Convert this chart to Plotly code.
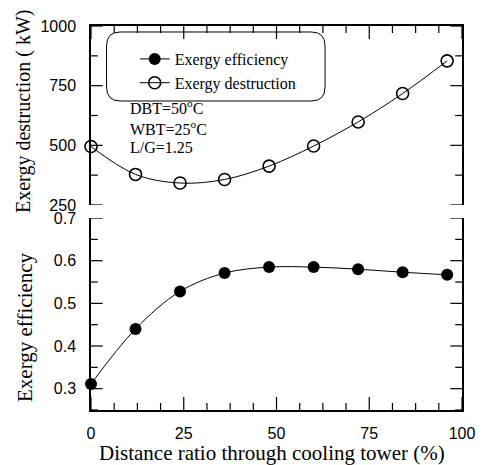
import plotly.graph_objects as go

# ---- data ----
distance = [0, 12, 24, 36, 48, 60, 72, 84, 96]
destruction = [495, 378, 342, 357, 413, 497, 598, 717, 854]
efficiency = [0.311, 0.440, 0.528, 0.571, 0.585, 0.585, 0.580, 0.573, 0.567]
x_ticks = [0, 25, 50, 75, 100]
x_minor = [6.25, 12.5, 18.75, 31.25, 37.5, 43.75, 56.25, 62.5, 68.75, 81.25, 87.5, 93.75]
eff_ticks = [0.3, 0.4, 0.5, 0.6, 0.7]
eff_minor = [0.25, 0.35, 0.45, 0.55, 0.65]
des_ticks = [250, 500, 750, 1000]
des_minor = [375, 625, 875]
notes = ["DBT=50<sup>o</sup>C", "WBT=25<sup>o</sup>C", "L/G=1.25"]

W, H = 487, 465
L, R, T, B = 91, 14, 26, 55
PW, PH = W - L - R, H - T - B


def px(xp):
    return (xp - L) / PW


def py(yp):
    return (H - B - yp) / PH


serif = "Liberation Serif"
sans = "Liberation Sans"
XR = [0, 100]
YR_EFF = [0.25, 0.7001]
YR_DES = [249.9, 1000.1]
BOT_TOP, TOP_BOT = 218, 205
H_BOT = (H - B) - BOT_TOP
H_TOP = TOP_BOT - T

fig = go.Figure()
fig.add_trace(go.Scatter(
    x=distance, y=efficiency, name="Exergy efficiency",
    mode="lines+markers", line=dict(color="black", width=1, shape="spline"),
    marker=dict(symbol="circle", size=12, color="black"), cliponaxis=False,
    xaxis="x", yaxis="y"))
fig.add_trace(go.Scatter(
    x=distance, y=destruction, name="Exergy destruction",
    mode="lines+markers", line=dict(color="black", width=1, shape="spline"),
    marker=dict(symbol="circle-open", size=12, color="black", line=dict(width=1.6)),
    cliponaxis=False, xaxis="x2", yaxis="y2"))

tickfont = dict(family=sans, size=16, color="black")
base = dict(showline=True, linecolor="black", linewidth=1.5, showgrid=False,
            zeroline=False, ticks="")

fig.update_layout(
    width=W, height=H, margin=dict(l=L, r=R, t=T, b=B),
    paper_bgcolor="white", plot_bgcolor="white",
    xaxis=dict(domain=[0, 1], anchor="y", range=XR, tickmode="array", tickvals=x_ticks,
               tickfont=tickfont, ticklabelstandoff=8, mirror=False, **base),
    xaxis2=dict(domain=[0, 1], anchor="y2", range=XR, side="top", showticklabels=False,
                mirror=False, **base),
    yaxis=dict(domain=[0, py(BOT_TOP)], anchor="x", range=YR_EFF, tickmode="array",
               tickvals=eff_ticks, tickformat=".1f", tickfont=tickfont,
               ticklabelstandoff=10, mirror=True, **base),
    yaxis2=dict(domain=[py(TOP_BOT), 1], anchor="x2", range=YR_DES, tickmode="array",
                tickvals=des_ticks, tickfont=tickfont, ticklabelstandoff=10, mirror=True, **base),
    showlegend=True,
    legend=dict(x=px(136), y=py(42), xanchor="left", yanchor="top",
                bgcolor="rgba(0,0,0,0)", borderwidth=0,
                font=dict(family=serif, size=16, color="black"), tracegroupgap=0),
)

# inward-pointing tick marks (major 13/12 px, minor 7 px)
tline = dict(color="black", width=1.2)


def xticks(vals, ln):
    for v in vals:
        fig.add_shape(type="line", xref="x", yref="y domain", x0=v, x1=v,
                      y0=0, y1=ln / H_BOT, line=tline, layer="above")
        fig.add_shape(type="line", xref="x2", yref="y2 domain", x0=v, x1=v,
                      y0=1, y1=1 - ln / H_TOP, line=tline, layer="above")


def yticks(vals, ln, xr, yr):
    for v in vals:
        fig.add_shape(type="line", xref=xr, yref=yr, x0=0, x1=ln / PW, y0=v, y1=v,
                      line=tline, layer="above")
        fig.add_shape(type="line", xref=xr, yref=yr, x0=1, x1=1 - ln / PW, y0=v, y1=v,
                      line=tline, layer="above")


xticks(x_ticks, 13)
xticks(x_minor, 7)
yticks(eff_ticks, 12, "x domain", "y")
yticks(eff_minor, 7, "x domain", "y")
yticks(des_ticks, 12, "x2 domain", "y2")
yticks(des_minor, 7, "x2 domain", "y2")

# rounded legend frame
x0, x1, y0, y1, r = 107, 332, 32, 101, 14
pts = [
    ("M", x0 + r, y0), ("L", x1 - r, y0), ("Q", x1, y0, x1, y0 + r), ("L", x1, y1 - r),
    ("Q", x1, y1, x1 - r, y1), ("L", x0 + r, y1), ("Q", x0, y1, x0, y1 - r),
    ("L", x0, y0 + r), ("Q", x0, y0, x0 + r, y0),
]
path = ""
for p in pts:
    cmd, coords = p[0], p[1:]
    conv = []
    for i in range(0, len(coords), 2):
        conv.append(f"{px(coords[i]):.5f},{py(coords[i+1]):.5f}")
    path += cmd + " ".join(conv) + " "
path += "Z"
fig.add_shape(type="path", path=path, xref="paper", yref="paper",
              line=dict(color="black", width=1), layer="above")

# notes
for txt, yc in zip(notes, [107, 128, 147]):
    fig.add_annotation(text=txt, x=px(129), y=py(yc), xref="paper", yref="paper",
                       xanchor="left", yanchor="middle", showarrow=False,
                       font=dict(family=serif, size=16, color="black"))

# axis titles
fig.add_annotation(text="Distance ratio through cooling tower (%)", x=px(277.5), y=py(453),
                   xref="paper", yref="paper", showarrow=False, xanchor="center", yanchor="middle",
                   font=dict(family=serif, size=21, color="black"))
fig.add_annotation(text="Exergy destruction ( kW)", x=px(22), y=py(111), textangle=-90,
                   xref="paper", yref="paper", showarrow=False, xanchor="center", yanchor="middle",
                   font=dict(family=serif, size=20, color="black"))
fig.add_annotation(text="Exergy efficiency", x=px(23), y=py(327), textangle=-90,
                   xref="paper", yref="paper", showarrow=False, xanchor="center", yanchor="middle",
                   font=dict(family=serif, size=21, color="black"))

fig.write_html("out.html")
